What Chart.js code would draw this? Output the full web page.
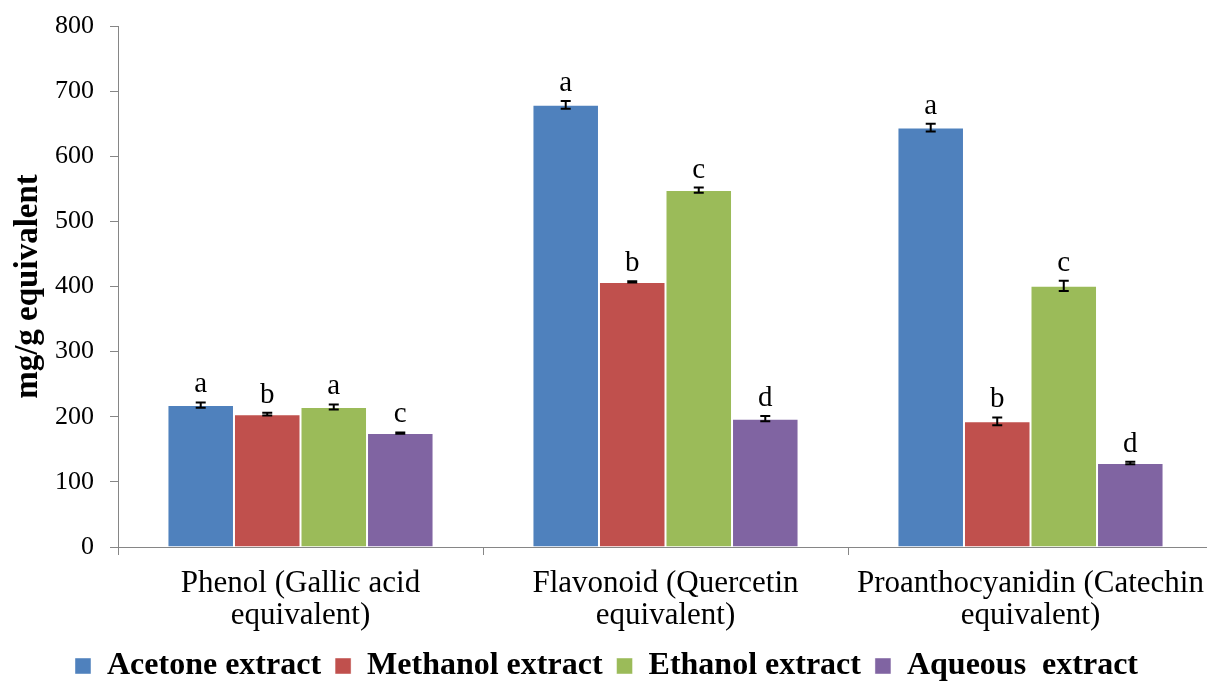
<!DOCTYPE html>
<html>
<head>
<meta charset="utf-8">
<script src="https://cdn.jsdelivr.net/npm/chart.js@4/dist/chart.umd.min.js"></script>
<style>
  html, body { margin: 0; padding: 0; background: #fff; overflow: hidden; }
  #wrap { width: 1216px; height: 692px; position: relative; }
</style>
</head>
<body>
<div id="wrap"><canvas id="c"></canvas></div>
<script>
// Categories (two-line axis labels)
const categories = [
  ["Phenol (Gallic acid", "equivalent)"],
  ["Flavonoid (Quercetin", "equivalent)"],
  ["Proanthocyanidin (Catechin", "equivalent)"]
];
const seriesNames = ["Acetone extract", "Methanol extract", "Ethanol extract", "Aqueous  extract"];

// Mean content, mg/g equivalent
const acetone  = [218, 679, 644];
const methanol = [204, 407, 193];
const ethanol  = [215, 548, 401];
const aqueous  = [175, 197, 129];

// Standard deviations
const acetoneErr  = [4, 6, 6];
const methanolErr = [2, 1, 6];
const ethanolErr  = [4, 4, 8];
const aqueousErr  = [1, 4, 2];

// Significance letters
const acetoneSig  = ["a", "a", "a"];
const methanolSig = ["b", "b", "b"];
const ethanolSig  = ["a", "c", "c"];
const aqueousSig  = ["c", "d", "d"];

const yMin = 0, yMax = 800, yStep = 100;

const colors = ["#4F81BD", "#C0504D", "#9BBB59", "#8064A2"];
const axisGray = "#868686";
const serif = '"Liberation Serif", "Times New Roman", serif';

const values = [acetone, methanol, ethanol, aqueous];
const errs = [acetoneErr, methanolErr, ethanolErr, aqueousErr];
const sigs = [acetoneSig, methanolSig, ethanolSig, aqueousSig];

const datasets = seriesNames.map((name, i) => ({
  label: name,
  data: values[i],
  errors: errs[i],
  letters: sigs[i],
  backgroundColor: colors[i],
  borderColor: "rgba(255,255,255,0.45)",
  borderWidth: 1,
  categoryPercentage: 0.729,
  barPercentage: 1.0
}));

// Error bars with caps, and the letter above each bar
const errorBarPlugin = {
  id: "errorBars",
  afterDatasetsDraw(chart) {
    const ctx = chart.ctx;
    const y = chart.scales.y;
    chart.data.datasets.forEach((ds, i) => {
      const meta = chart.getDatasetMeta(i);
      meta.data.forEach((bar, j) => {
        const v = ds.data[j], e = ds.errors[j];
        const yTop = y.getPixelForValue(v + e);
        const yBot = y.getPixelForValue(v - e);
        const cap = 5;
        ctx.save();
        ctx.strokeStyle = "#000";
        ctx.lineWidth = 2;
        ctx.beginPath();
        ctx.moveTo(bar.x, yTop); ctx.lineTo(bar.x, yBot);
        ctx.moveTo(bar.x - cap, yTop); ctx.lineTo(bar.x + cap, yTop);
        ctx.moveTo(bar.x - cap, yBot); ctx.lineTo(bar.x + cap, yBot);
        ctx.stroke();
        ctx.fillStyle = "#000";
        ctx.font = "29px " + serif;
        ctx.textAlign = "center";
        ctx.textBaseline = "alphabetic";
        ctx.fillText(ds.letters[j], bar.x, yTop - 10);
        ctx.restore();
      });
    });
  }
};

new Chart(document.getElementById("c"), {
  type: "bar",
  data: { labels: categories, datasets },
  plugins: [errorBarPlugin],
  options: {
    responsive: true,
    maintainAspectRatio: false,
    animation: false,
    layout: { padding: { top: 26, right: 3, bottom: 0, left: 0 } },
    plugins: {
      tooltip: { enabled: false },
      legend: {
        position: "bottom",
        labels: {
          boxWidth: 16,
          boxHeight: 16,
          padding: 14,
          color: "#000",
          font: { family: serif, size: 32, weight: "bold" }
        }
      }
    },
    scales: {
      x: {
        afterFit(s) { s.height = 89; s.paddingLeft = 0; s.paddingRight = 0; },
        grid: {
          display: true,
          drawOnChartArea: false,
          drawTicks: true,
          tickLength: 8,
          color: axisGray,
          offset: true
        },
        border: { display: true, color: axisGray, width: 1 },
        ticks: {
          color: "#000",
          padding: 13,
          maxRotation: 0,
          autoSkip: false,
          font: { family: serif, size: 31, lineHeight: 1.03 }
        }
      },
      y: {
        min: yMin,
        max: yMax,
        afterFit(s) { s.width = 118; s.paddingTop = 0; s.paddingBottom = 0; },
        grid: {
          display: true,
          drawOnChartArea: false,
          drawTicks: true,
          tickLength: 8,
          color: axisGray
        },
        border: { display: true, color: axisGray, width: 1 },
        ticks: {
          stepSize: yStep,
          color: "#000",
          padding: 16,
          font: { family: serif, size: 26 }
        },
        title: {
          display: true,
          text: "mg/g equivalent",
          color: "#000",
          padding: { top: 9, bottom: 0 },
          font: { family: serif, size: 33, weight: "bold", lineHeight: 1.2 }
        }
      }
    }
  }
});
</script>
</body>
</html>
